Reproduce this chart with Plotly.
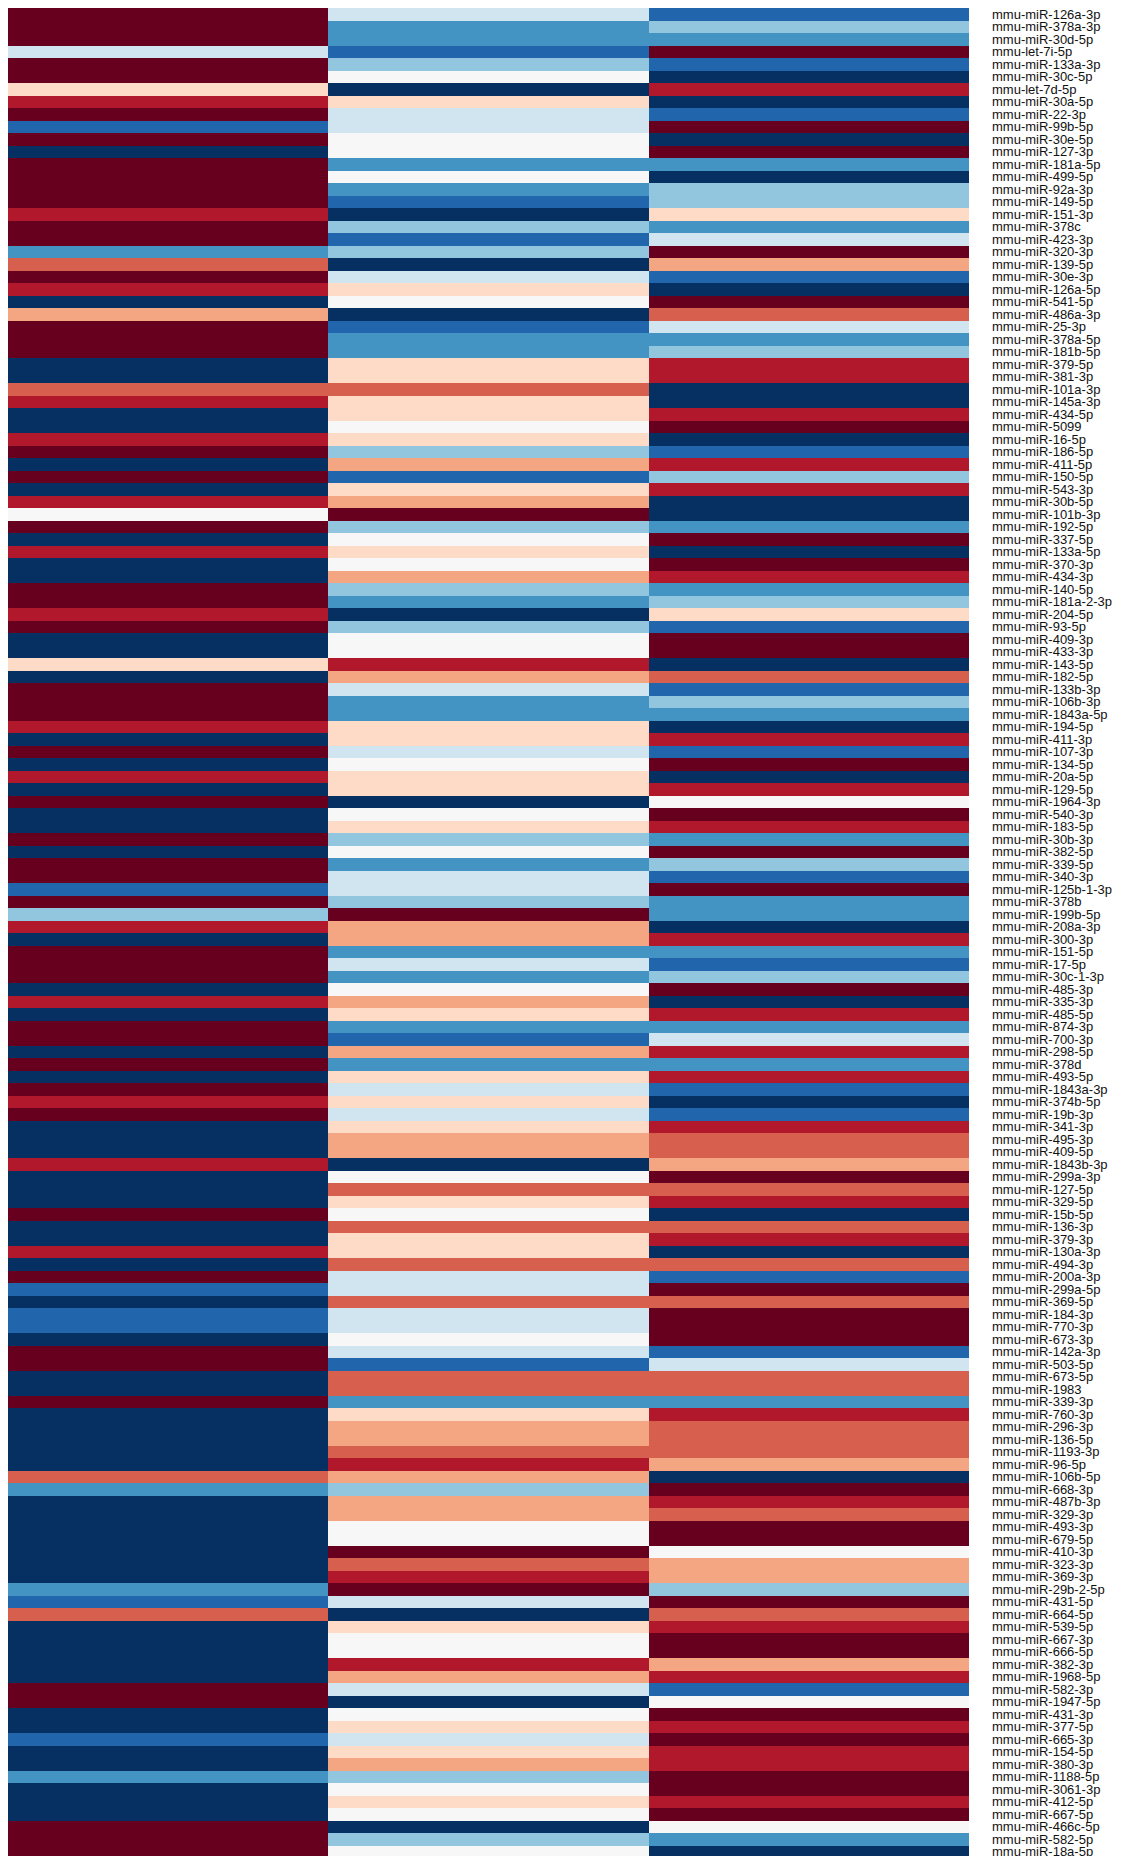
import plotly.graph_objects as go

# Row labels (top to bottom)
labels = [
    "mmu-miR-126a-3p", "mmu-miR-378a-3p", "mmu-miR-30d-5p", "mmu-let-7i-5p", "mmu-miR-133a-3p",
    "mmu-miR-30c-5p", "mmu-let-7d-5p", "mmu-miR-30a-5p", "mmu-miR-22-3p", "mmu-miR-99b-5p",
    "mmu-miR-30e-5p", "mmu-miR-127-3p", "mmu-miR-181a-5p",
    "mmu-miR-499-5p", "mmu-miR-92a-3p", "mmu-miR-149-5p", "mmu-miR-151-3p", "mmu-miR-378c",
    "mmu-miR-423-3p", "mmu-miR-320-3p", "mmu-miR-139-5p", "mmu-miR-30e-3p", "mmu-miR-126a-5p",
    "mmu-miR-541-5p", "mmu-miR-486a-3p",
    "mmu-miR-25-3p", "mmu-miR-378a-5p", "mmu-miR-181b-5p", "mmu-miR-379-5p", "mmu-miR-381-3p",
    "mmu-miR-101a-3p", "mmu-miR-145a-3p", "mmu-miR-434-5p", "mmu-miR-5099", "mmu-miR-16-5p",
    "mmu-miR-186-5p", "mmu-miR-411-5p",
    "mmu-miR-150-5p", "mmu-miR-543-3p", "mmu-miR-30b-5p", "mmu-miR-101b-3p", "mmu-miR-192-5p",
    "mmu-miR-337-5p", "mmu-miR-133a-5p", "mmu-miR-370-3p", "mmu-miR-434-3p", "mmu-miR-140-5p",
    "mmu-miR-181a-2-3p", "mmu-miR-204-5p", "mmu-miR-93-5p",
    "mmu-miR-409-3p", "mmu-miR-433-3p", "mmu-miR-143-5p", "mmu-miR-182-5p", "mmu-miR-133b-3p",
    "mmu-miR-106b-3p", "mmu-miR-1843a-5p", "mmu-miR-194-5p", "mmu-miR-411-3p", "mmu-miR-107-3p",
    "mmu-miR-134-5p", "mmu-miR-20a-5p",
    "mmu-miR-129-5p", "mmu-miR-1964-3p", "mmu-miR-540-3p", "mmu-miR-183-5p", "mmu-miR-30b-3p",
    "mmu-miR-382-5p", "mmu-miR-339-5p", "mmu-miR-340-3p", "mmu-miR-125b-1-3p", "mmu-miR-378b",
    "mmu-miR-199b-5p", "mmu-miR-208a-3p",
    "mmu-miR-300-3p", "mmu-miR-151-5p", "mmu-miR-17-5p", "mmu-miR-30c-1-3p", "mmu-miR-485-3p",
    "mmu-miR-335-3p", "mmu-miR-485-5p", "mmu-miR-874-3p", "mmu-miR-700-3p", "mmu-miR-298-5p",
    "mmu-miR-378d", "mmu-miR-493-5p", "mmu-miR-1843a-3p",
    "mmu-miR-374b-5p", "mmu-miR-19b-3p", "mmu-miR-341-3p", "mmu-miR-495-3p", "mmu-miR-409-5p",
    "mmu-miR-1843b-3p", "mmu-miR-299a-3p", "mmu-miR-127-5p", "mmu-miR-329-5p", "mmu-miR-15b-5p",
    "mmu-miR-136-3p", "mmu-miR-379-3p",
    "mmu-miR-130a-3p", "mmu-miR-494-3p", "mmu-miR-200a-3p", "mmu-miR-299a-5p", "mmu-miR-369-5p",
    "mmu-miR-184-3p", "mmu-miR-770-3p", "mmu-miR-673-3p", "mmu-miR-142a-3p", "mmu-miR-503-5p",
    "mmu-miR-673-5p", "mmu-miR-1983",
    "mmu-miR-339-3p", "mmu-miR-760-3p", "mmu-miR-296-3p", "mmu-miR-136-5p", "mmu-miR-1193-3p",
    "mmu-miR-96-5p", "mmu-miR-106b-5p", "mmu-miR-668-3p", "mmu-miR-487b-3p", "mmu-miR-329-3p",
    "mmu-miR-493-3p", "mmu-miR-679-5p", "mmu-miR-410-3p",
    "mmu-miR-323-3p", "mmu-miR-369-3p", "mmu-miR-29b-2-5p", "mmu-miR-431-5p", "mmu-miR-664-5p",
    "mmu-miR-539-5p", "mmu-miR-667-3p", "mmu-miR-666-5p", "mmu-miR-382-3p", "mmu-miR-1968-5p",
    "mmu-miR-582-3p", "mmu-miR-1947-5p",
    "mmu-miR-431-3p", "mmu-miR-377-5p", "mmu-miR-665-3p", "mmu-miR-154-5p", "mmu-miR-380-3p",
    "mmu-miR-1188-5p", "mmu-miR-3061-3p", "mmu-miR-412-5p", "mmu-miR-667-5p", "mmu-miR-466c-5p",
    "mmu-miR-582-5p", "mmu-miR-18a-5p",
]

columns = ["Group 1", "Group 2", "Group 3"]

# Values per column (scaled levels, -5 = lowest / blue, +5 = highest / red)
col1 = [5, 5, 5, -1, 5, 5, 1, 4, 5, -4, 5, -5, 5,
        5, 5, 5, 4, 5, 5, -3, 3, 5, 4, -5, 2,
        5, 5, 5, -5, -5, 3, 4, -5, -5, 4, 5, -5,
        5, -5, 4, 0, 5, -5, 4, -5, -5, 5, 5, 4, 5,
        -5, -5, 1, -5, 5, 5, 5, 4, -5, 5, -5, 4,
        -5, 5, -5, -5, 5, -5, 5, 5, -4, 5, -2, 4,
        -5, 5, 5, 5, -5, 4, -5, 5, 5, -5, 5, -5, 5,
        4, 5, -5, -5, -5, 4, -5, -5, -5, 5, -5, -5,
        4, -5, 5, -4, -5, -4, -4, -5, 5, 5, -5, -5,
        5, -5, -5, -5, -5, -5, 3, -3, -5, -5, -5, -5, -5,
        -5, -5, -3, -4, 3, -5, -5, -5, -5, -5, 5, 5,
        -5, -5, -4, -5, -5, -3, -5, -5, -5, 5, 5, 5]

col2 = [-1, -3, -3, -4, -2, 0, -5, 1, -1, -1, 0, 0, -3,
        0, -3, -4, -5, -2, -4, -2, -5, -1, 1, 0, -5,
        -4, -3, -3, 1, 1, 3, 1, 1, 0, 1, -2, 2,
        -4, 1, 2, 5, -2, 0, 1, 0, 2, -2, -3, -5, -2,
        0, 0, 4, 2, -1, -3, -3, 1, 1, -1, 0, 1,
        1, -5, 0, 1, -2, 0, -3, -1, -1, -2, 5, 2,
        2, -3, -1, -3, 0, 2, 1, -3, -4, 2, -3, 1, -1,
        1, -1, 1, 2, 2, -5, 0, 3, 1, 0, 3, 1,
        1, 3, -1, -1, 3, -1, -1, 0, -1, -4, 3, 3,
        -3, 1, 2, 2, 3, 4, 2, -2, 2, 2, 0, 0, 5,
        3, 4, 5, -1, -5, 1, 0, 0, 4, 2, -1, -5,
        0, 1, -1, 1, 2, -2, 0, 1, 0, -5, -2, 0]

col3 = [-4, -2, -3, 5, -4, -5, 4, -5, -4, 5, -5, 5, -3,
        -5, -2, -2, 1, -3, -1, 5, 2, -4, -5, 5, 3,
        -1, -3, -2, 4, 4, -5, -5, 4, 5, -5, -4, 4,
        -2, 4, -5, -5, -3, 5, -5, 5, 4, -3, -2, 1, -4,
        5, 5, -5, 3, -4, -2, -3, -5, 4, -4, 5, -5,
        4, 0, 5, 4, -3, 5, -2, -4, 5, -3, -3, -5,
        4, -3, -4, -2, 5, -5, 4, -3, -1, 4, -3, 4, -4,
        -5, -4, 4, 3, 3, 2, 5, 3, 4, -5, 3, 4,
        -5, 3, -4, 5, 3, 5, 5, 5, -4, -1, 3, 3,
        -3, 4, 3, 3, 3, 2, -5, 5, 4, 3, 5, 5, 0,
        2, 2, -2, 5, 3, 4, 5, 5, 2, 4, -4, 0,
        5, 4, 5, 4, 4, 5, 5, 4, 5, 0, -3, -5]

# ColorBrewer RdBu, from blue (low) to red (high)
palette = ["#053061", "#2166ac", "#4393c3", "#92c5de", "#d1e5f0", "#f7f7f7",
           "#fddbc7", "#f4a582", "#d6604d", "#b2182b", "#67001f"]
colorscale = [[i / (len(palette) - 1), c] for i, c in enumerate(palette)]

z = [[a, b, c] for a, b, c in zip(col1, col2, col3)]

fig = go.Figure(
    go.Heatmap(
        z=z,
        x=columns,
        y=labels,
        colorscale=colorscale,
        zmin=-5,
        zmax=5,
        showscale=False,
    )
)

fig.update_layout(
    width=1114,
    height=1852,
    margin=dict(l=0, r=153, t=0, b=2),
    paper_bgcolor="white",
    plot_bgcolor="white",
    font=dict(family="Arial, Liberation Sans, sans-serif", size=13, color="#111111"),
)
fig.update_xaxes(showticklabels=False, showgrid=False, zeroline=False, ticks="")
fig.update_yaxes(
    side="right",
    autorange="reversed",
    type="category",
    tickmode="array",
    tickvals=labels,
    ticktext=labels,
    showgrid=False,
    zeroline=False,
    ticks="",
    ticklabelstandoff=22,
    tickfont=dict(size=13),
)

fig.write_html("out.html")
